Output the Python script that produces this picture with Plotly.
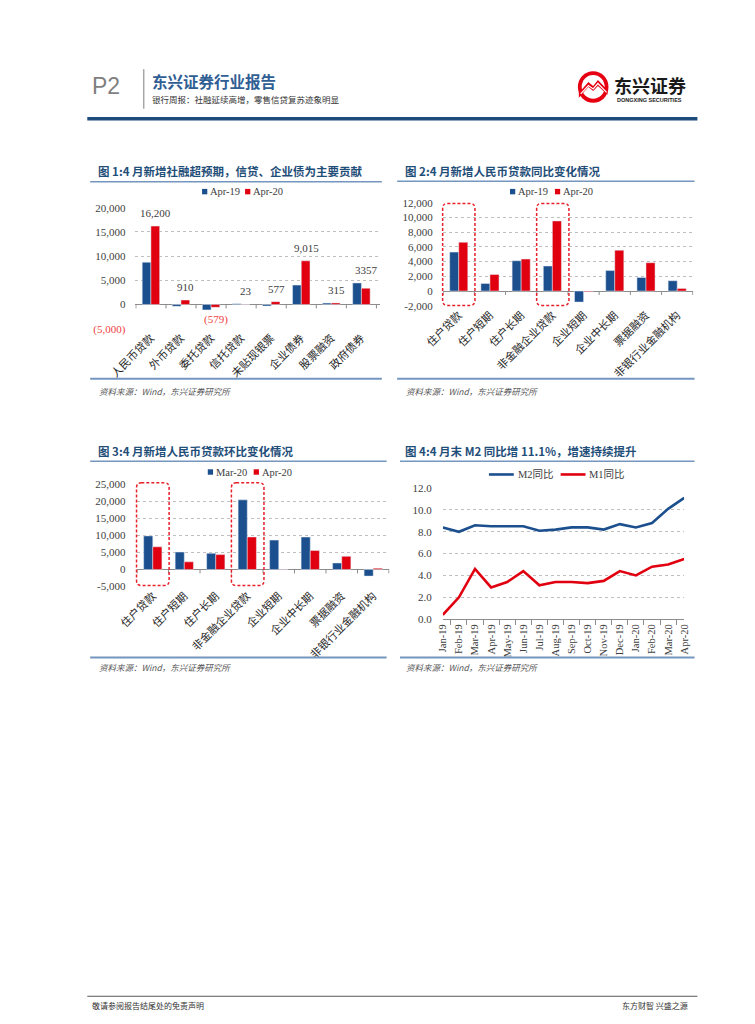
import plotly.graph_objects as go
import numpy as np

W, H = 755, 1024
def X(px): return px / W
def Y(py): return 1 - py / H

# ---------------- data ----------------
cat1 = ["人民币贷款", "外币贷款", "委托贷款", "信托贷款", "未贴现银票", "企业债券", "股票融资", "政府债券"]
c1_apr19 = [8733, -390, -1120, 150, -320, 4000, 280, 4450]
c1_apr20 = [16200, 910, -579, 23, 577, 9015, 315, 3357]
c1_labels = ["16,200", "910", "(579)", "23", "577", "9,015", "315", "3357"]
c1_yticks = [-5000, 0, 5000, 10000, 15000, 20000]
c1_yticktext = ["<span style='color:#F04040'>(5,000)</span>", "0", "5,000", "10,000", "15,000", "20,000"]

cat2 = ["住户贷款", "住户短期", "住户长期", "非金融企业贷款", "企业短期", "企业中长期", "票据融资", "非银行业金融机构"]
c2_apr19 = [5290, 1030, 4120, 3400, -1500, 2780, 1840, 1400]
c2_apr20 = [6630, 2240, 4350, 9530, -90, 5550, 3850, 360]
c2_yticks = [-2000, 0, 2000, 4000, 6000, 8000, 10000, 12000]
c2_yticktext = ["-2,000", "0", "2,000", "4,000", "6,000", "8,000", "10,000", "12,000"]

cat3 = cat2
c3_mar20 = [9840, 5100, 4730, 20400, 8600, 9500, 1900, -1950]
c3_apr20 = [6630, 2240, 4350, 9530, -90, 5550, 3850, 360]
c3_yticks = [-5000, 0, 5000, 10000, 15000, 20000, 25000]
c3_yticktext = ["-5,000", "0", "5,000", "10,000", "15,000", "20,000", "25,000"]

months = ["Jan-19", "Feb-19", "Mar-19", "Apr-19", "May-19", "Jun-19", "Jul-19", "Aug-19",
          "Sep-19", "Oct-19", "Nov-19", "Dec-19", "Jan-20", "Feb-20", "Mar-20", "Apr-20"]
m2_yoy = [8.4, 8.0, 8.6, 8.5, 8.5, 8.5, 8.1, 8.2, 8.4, 8.4, 8.2, 8.7, 8.4, 8.8, 10.1, 11.1]
m1_yoy = [0.4, 2.0, 4.6, 2.9, 3.4, 4.4, 3.1, 3.4, 3.4, 3.3, 3.5, 4.4, 4.0, 4.8, 5.0, 5.5]
c4_yticks = [0, 2, 4, 6, 8, 10, 12]

# highlighted categories (dashed boxes) and their value extents
hl_cats = ["住户贷款", "非金融企业贷款"]
hl2_range = [-1950, 11900]
hl3_range = [-4700, 25400]

# ---------------- styles ----------------
BLUE = "#1B4F8E"
RED = "#E0000F"
SERIF = "Liberation Serif"
CJK = "Noto Sans CJK SC"
NAVY = "#1F4A7C"
STEEL = "#7496BF"
GRID = "#BFBFBF"
TXT = "#404040"

# plot areas in pixels: (left, right, top, bottom)
P1 = (112.3, 368.0, 204.3, 326.8)
P2 = (433.6, 695.7, 199.3, 303.6)
P3 = (113.5, 378.0, 484.3, 588.0)
P4 = (433.8, 686.2, 488.3, 621.0)

fig = go.Figure()

series = [
    (cat1, c1_apr19, "Apr-19", BLUE, "x", "y"),
    (cat1, c1_apr20, "Apr-20", RED, "x", "y"),
    (cat2, c2_apr19, "Apr-19", BLUE, "x2", "y2"),
    (cat2, c2_apr20, "Apr-20", RED, "x2", "y2"),
    (cat3, c3_mar20, "Mar-20", BLUE, "x3", "y3"),
    (cat3, c3_apr20, "Apr-20", RED, "x3", "y3"),
]
for xs, ys, nm, col, xa, ya in series:
    fig.add_trace(go.Bar(x=xs, y=ys, name=nm, marker_color=col, xaxis=xa, yaxis=ya, showlegend=False))
fig.add_trace(go.Scatter(x=months, y=m2_yoy, name="M2同比", mode="lines", line=dict(color=BLUE, width=2.6),
                         xaxis="x4", yaxis="y4", showlegend=False))
fig.add_trace(go.Scatter(x=months, y=m1_yoy, name="M1同比", mode="lines", line=dict(color=RED, width=2.6),
                         xaxis="x4", yaxis="y4", showlegend=False))

def xdom(p): return [X(p[0]), X(p[1])]
def ydom(p): return [Y(p[3]), Y(p[2])]

catfont = dict(family=CJK, size=11, color="#262626")
numfont = dict(family=SERIF, size=11, color=TXT)

def bar_xaxis(p, anchor):
    return dict(domain=xdom(p), anchor=anchor, type="category", showgrid=False, showline=False,
                ticks="", tickangle=-45, tickfont=catfont, fixedrange=True)

def bar_yaxis(p, anchor, rng, tv, tt, standoff):
    return dict(domain=ydom(p), anchor=anchor, range=rng, tickvals=tv, ticktext=tt, showgrid=True,
                gridcolor=GRID, griddash="dot", gridwidth=1, zeroline=True, zerolinecolor="#8C8C8C",
                zerolinewidth=1, showline=False, ticks="", tickfont=numfont, ticklabelstandoff=standoff)

fig.update_layout(
    width=W, height=H, margin=dict(l=0, r=0, t=0, b=0),
    paper_bgcolor="white", plot_bgcolor="white",
    barmode="group", bargap=0.42, bargroupgap=0,
    xaxis=bar_xaxis(P1, "y"),
    yaxis=bar_yaxis(P1, "x", [-5000, 20000], c1_yticks, c1_yticktext, 9),
    xaxis2=bar_xaxis(P2, "y2"),
    yaxis2=bar_yaxis(P2, "x2", [-2000, 12000], c2_yticks, c2_yticktext, 9),
    xaxis3=bar_xaxis(P3, "y3"),
    yaxis3=bar_yaxis(P3, "x3", [-5000, 25000], c3_yticks, c3_yticktext, 10),
    xaxis4=dict(domain=xdom(P4), anchor="y4", type="category", showgrid=False, showline=True,
                linecolor="#8C8C8C", linewidth=1, ticks="outside", tickson="boundaries", ticklen=5,
                tickcolor="#8C8C8C", tickangle=-90, tickfont=dict(family=SERIF, size=10.5, color=TXT)),
    yaxis4=dict(domain=ydom(P4), anchor="x4", range=[0, 12], tickvals=c4_yticks, tickformat=".1f",
                showgrid=True, gridcolor=GRID, griddash="dot", zeroline=False, showline=False, ticks="",
                tickfont=numfont, ticklabelstandoff=10),
    showlegend=False,
)

shapes = []
ann = []

def hline(x0, x1, y, color, w):
    shapes.append(dict(type="line", xref="paper", yref="paper", x0=X(x0), x1=X(x1), y0=Y(y), y1=Y(y),
                       line=dict(color=color, width=w)))

# ---- legends (drawn from the trace names/colours) ----
legfont = dict(family=SERIF + ", " + CJK, size=10.5, color=TXT)
legend_specs = [
    (0, [182, 227], 188, "box"),
    (2, [504, 551], 188, "box"),
    (4, [188, 236], 472, "box"),
    (6, [482, 557], 474.5, "line"),
]
for ti, starts, ly, kind in legend_specs:
    for k, sx in enumerate(starts):
        tr = fig.data[ti + k]
        if kind == "box":
            col = tr.marker.color
            shapes.append(dict(type="rect", xref="paper", yref="paper", x0=X(sx), x1=X(sx + 5.5),
                               y0=Y(ly + 2.75), y1=Y(ly - 2.75), fillcolor=col, line=dict(width=0)))
            tx = sx + 6.5
        else:
            col = tr.line.color
            shapes.append(dict(type="line", xref="paper", yref="paper", x0=X(sx), x1=X(sx + 26),
                               y0=Y(ly), y1=Y(ly), line=dict(color=col, width=2.6)))
            tx = sx + 28
        ann.append(dict(text=tr.name, x=X(tx), y=Y(ly), xanchor="left", yanchor="middle", font=legfont))

# header
ann.append(dict(text="P2", x=X(65), y=Y(81), xanchor="left", yanchor="middle",
                font=dict(family="Liberation Sans", size=23, color="#7F7F7F")))
shapes.append(dict(type="line", xref="paper", yref="paper", x0=X(121), x1=X(121), y0=Y(64), y1=Y(104),
                   line=dict(color="#A6A6A6", width=1.5)))
ann.append(dict(text="东兴证券行业报告", x=X(128), y=Y(76), xanchor="left", yanchor="middle",
                font=dict(family=CJK, size=15.5, color="#2F5E94", weight="bold")))
ann.append(dict(text="银行周报：社融延续高增，零售信贷复苏迹象明显", x=X(128), y=Y(94), xanchor="left",
                yanchor="middle", font=dict(family=CJK, size=8.5, color="#333333")))
shapes.append(dict(type="rect", xref="paper", yref="paper", x0=X(62), x1=X(700), y0=Y(116), y1=Y(112.5),
                   fillcolor=NAVY, line=dict(width=0)))

# logo
shapes.append(dict(type="circle", xref="paper", yref="paper", x0=X(575), x1=X(607), y0=Y(98), y1=Y(66),
                   fillcolor="#E60012", line=dict(width=0)))
shapes.append(dict(type="circle", xref="paper", yref="paper", x0=X(579), x1=X(603), y0=Y(94), y1=Y(70),
                   fillcolor="white", line=dict(width=0)))
def ppath(pts):
    return "M " + " L ".join(f"{X(a):.5f},{Y(b):.5f}" for a, b in pts)
shapes.append(dict(type="path", xref="paper", yref="paper",
                   path=ppath([(576, 88), (586, 77), (591, 81), (596, 75), (606, 85), (606, 90), (596, 81),
                               (591, 86), (586, 82), (576, 93)]) + " Z",
                   fillcolor="#E60012", line=dict(width=0)))
shapes.append(dict(type="path", xref="paper", yref="paper",
                   path=ppath([(578, 89), (586, 80.5), (591, 84), (596, 78.5), (605, 87.5)]),
                   line=dict(color="white", width=1.2)))
ann.append(dict(text="东兴证券", x=X(650), y=Y(80), xanchor="center", yanchor="middle",
                font=dict(family=CJK, size=18, color="#1A1A1A", weight="bold")))
ann.append(dict(text="DONGXING SECURITIES", x=X(650), y=Y(95.5), xanchor="center", yanchor="middle",
                font=dict(family="Liberation Sans", size=5.5, color="#1A1A1A", weight="bold")))

# chart titles, rules and sources
titles = [
    ("图 1:4 月新增社融超预期，信贷、企业债为主要贡献", 71, 167, 65, 370, 178, 377.5, 390),
    ("图 2:4 月新增人民币贷款同比变化情况", 392, 167, 386, 697, 177.5, 377.5, 390),
    ("图 3:4 月新增人民币贷款环比变化情况", 71, 451, 65, 375, 461, 660, 670),
    ("图 4:4 月末 M2 同比增 11.1%，增速持续提升", 392, 451, 389, 697, 461, 660, 670),
]
for t, tx, ty, lx0, lx1, ly, by, sy in titles:
    ann.append(dict(text=t, x=X(tx), y=Y(ty), xanchor="left", yanchor="middle",
                    font=dict(family=CJK, size=11.5, color="#1F4E79", weight="bold")))
    hline(lx0, lx1, ly, STEEL, 1.5)
    hline(lx0, lx1, by, STEEL, 2)
    ann.append(dict(text="资料来源：Wind，东兴证券研究所", x=X(tx + 1), y=Y(sy), xanchor="left", yanchor="middle",
                    font=dict(family=CJK, size=8.5, color="#555555", style="italic")))

# footer
hline(62, 700, 1003, "#595959", 1)
ann.append(dict(text="敬请参阅报告结尾处的免责声明", x=X(65), y=Y(1012), xanchor="left", yanchor="middle",
                font=dict(family=CJK, size=8, color="#333333")))
ann.append(dict(text="东方财智 兴盛之源", x=X(692), y=Y(1012), xanchor="right", yanchor="middle",
                font=dict(family=CJK, size=8, color="#333333")))

# helpers for data -> pixel
def vy(p, rng, v):
    return p[3] - (v - rng[0]) / (rng[1] - rng[0]) * (p[3] - p[2])
def cx(p, n, i):
    return p[0] + (i + 0.5) * (p[1] - p[0]) / n

# tick marks on zero lines of bar charts
for xr, p, rng, n in [("x", P1, [-5000, 20000], len(cat1)), ("x2", P2, [-2000, 12000], len(cat2)),
                      ("x3", P3, [-5000, 25000], len(cat3))]:
    z = vy(p, rng, 0)
    for b in np.arange(-0.5, n, 1.0):
        shapes.append(dict(type="line", xref=xr, yref="paper", x0=b, x1=b, y0=Y(z), y1=Y(z + 4),
                           line=dict(color="#8C8C8C", width=1)))

# data labels chart 1
for i, (a, b, lab) in enumerate(zip(c1_apr19, c1_apr20, c1_labels)):
    if b >= 0:
        ann.append(dict(text=lab, x=cat1[i], y=max(a, b), xref="x", yref="y", xshift=5, yshift=13,
                        showarrow=False, xanchor="center", yanchor="middle", font=numfont))
    else:
        ann.append(dict(text=lab, x=cat1[i], y=b, xref="x", yref="y", xshift=5, yshift=-12,
                        showarrow=False, xanchor="center", yanchor="middle",
                        font=dict(family=SERIF, size=11, color="#F04040")))

# dashed rounded highlight boxes
def rrect(x0, y0, x1, y1, r):
    return (f"M {X(x0 + r):.5f},{Y(y0):.5f} L {X(x1 - r):.5f},{Y(y0):.5f} "
            f"Q {X(x1):.5f},{Y(y0):.5f} {X(x1):.5f},{Y(y0 + r):.5f} L {X(x1):.5f},{Y(y1 - r):.5f} "
            f"Q {X(x1):.5f},{Y(y1):.5f} {X(x1 - r):.5f},{Y(y1):.5f} L {X(x0 + r):.5f},{Y(y1):.5f} "
            f"Q {X(x0):.5f},{Y(y1):.5f} {X(x0):.5f},{Y(y1 - r):.5f} L {X(x0):.5f},{Y(y0 + r):.5f} "
            f"Q {X(x0):.5f},{Y(y0):.5f} {X(x0 + r):.5f},{Y(y0):.5f} Z")

for p, rng, cats, hr in [(P2, [-2000, 12000], cat2, hl2_range), (P3, [-5000, 25000], cat3, hl3_range)]:
    n = len(cats)
    cw = (p[1] - p[0]) / n
    for c in hl_cats:
        i = cats.index(c)
        c0 = cx(p, n, i)
        shapes.append(dict(type="path", xref="paper", yref="paper",
                           path=rrect(c0 - cw / 2, vy(p, rng, hr[1]), c0 + cw / 2 + 1, vy(p, rng, hr[0]), 5),
                           line=dict(color="#E8202A", width=1.5, dash="3px,2px")))

for a in ann:
    a.setdefault("xref", "paper")
    a.setdefault("yref", "paper")
    a.setdefault("showarrow", False)

fig.update_layout(shapes=shapes, annotations=ann)
# let the figure fill the window exactly (no default page margin), no mode bar
fig.write_html("out.html", config={"displayModeBar": False},
               post_script="document.body.style.margin='0';document.body.style.overflow='hidden';")
